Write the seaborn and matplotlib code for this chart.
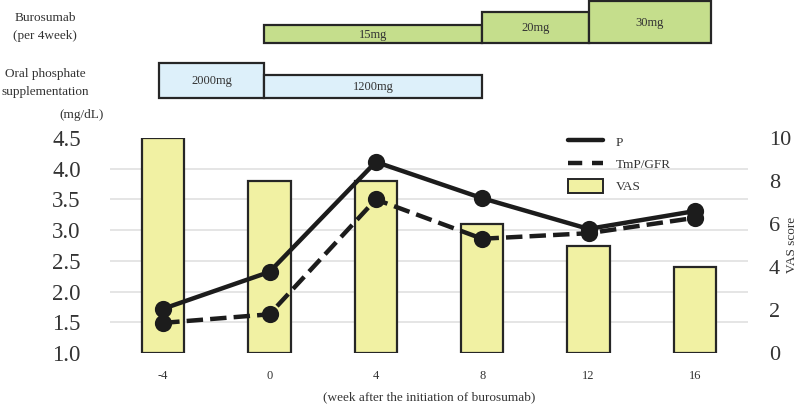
"""Burosumab dosing, serum P, TmP/GFR and VAS score over weeks."""

import matplotlib
matplotlib.use("Agg")
import matplotlib.pyplot as plt
import seaborn as sns
from matplotlib.lines import Line2D
from matplotlib.patches import Patch

WEEKS = [-4, 0, 4, 8, 12, 16]
P = [1.72, 2.32, 4.11, 3.52, 3.02, 3.31]
TMP_GFR = [1.49, 1.63, 3.50, 2.86, 2.95, 3.20]
VAS = [10, 8, 8, 6, 5, 4]

MG_TICKS = [1.0, 1.5, 2.0, 2.5, 3.0, 3.5, 4.0, 4.5]
VAS_TICKS = [0, 2, 4, 6, 8, 10]

# dosing regimens: (start week, end week, label)
BURO_START = [-0.2, 8.0, 12.0]
BURO_END = [8.0, 12.0, 16.6]
BURO_LABEL = ["15mg", "20mg", "30mg"]
PHOS_START = [-4.15, -0.2]
PHOS_END = [-0.2, 8.0]
PHOS_LABEL = ["2000mg", "1200mg"]

BAR_C = "#F1F1A3"
BURO_C = "#C5DE8C"
PHOS_C = "#DDF0FA"
EDGE = "#262626"
INK = "#1c1c1c"
SERIF = ["Liberation Serif", "DejaVu Serif"]


def week_pos(w):
    # categorical position of a week on the main axis
    return (w - WEEKS[0]) / 4.0


def main():
    sns.set_theme(style="white")
    plt.rcParams["font.family"] = SERIF
    plt.rcParams["text.color"] = "#333333"

    fig = plt.figure(figsize=(8, 4.05), dpi=100)
    W, H = 800, 405
    left, right, top, bottom = 110, 748, 138, 353
    ax_vas = fig.add_axes([left / W, 1 - bottom / H, (right - left) / W, (bottom - top) / H])
    ax_p = ax_vas.twinx()

    labels = [str(w) for w in WEEKS]
    sns.barplot(x=labels, y=VAS, order=labels, color=BAR_C, edgecolor=EDGE,
                linewidth=1.6, width=0.4, saturation=1, ax=ax_vas, zorder=2)
    ax_vas.set_ylim(0, 10)
    ax_vas.set_yticks(VAS_TICKS)
    ax_vas.yaxis.tick_right()
    ax_vas.set_ylabel("")
    # grid lines follow the mg/dL ticks, drawn beneath the bars
    ax_vas.set_yticks([(m - MG_TICKS[0]) / (MG_TICKS[-1] - MG_TICKS[0]) * 10 for m in MG_TICKS],
                      minor=True)
    ax_vas.grid(which="minor", axis="y", color="#dedede", linewidth=1.1, zorder=0)
    ax_vas.set_axisbelow(True)

    sns.pointplot(x=labels, y=P, order=labels, color=INK, markers="o",
                  linestyles="-", markersize=10, linewidth=3.2, ax=ax_p)
    sns.pointplot(x=labels, y=TMP_GFR, order=labels, color=INK, markers="o",
                  linestyles="--", markersize=10, linewidth=3.2, ax=ax_p)
    ax_p.lines[-1].set_dashes([3.2, 2.2])
    ax_p.set_ylim(MG_TICKS[0], MG_TICKS[-1])
    ax_p.set_yticks(MG_TICKS)
    ax_p.set_yticklabels([f"{m:.1f}" for m in MG_TICKS])
    ax_p.yaxis.tick_left()
    ax_p.set_ylabel("")

    for a in (ax_vas, ax_p):
        a.set_xlim(-0.5, 5.5)
        for s in a.spines.values():
            s.set_visible(False)
        a.tick_params(axis="both", which="both", length=0)
    ax_p.tick_params(axis="y", labelsize=16.5, pad=21, labelcolor="#333333")
    ax_vas.tick_params(axis="y", labelsize=16, pad=15, labelcolor="#333333")
    ax_vas.tick_params(axis="x", labelsize=9, pad=12, labelcolor="#333333")
    ax_p.tick_params(axis="x", labelbottom=False)
    ax_vas.set_xlabel("(week after the initiation of burosumab)", fontsize=9.5,
                      labelpad=7, color="#333333")

    handles = [
        Line2D([0], [0], color=INK, lw=3.2),
        Line2D([0], [0], color=INK, lw=3.2, dashes=[3.2, 2.2]),
        Patch(facecolor=BAR_C, edgecolor=EDGE, linewidth=1.4),
    ]
    ax_p.legend(handles, ["P", "TmP/GFR", "VAS"], loc="upper left",
                bbox_to_anchor=(0.70, 1.07), frameon=False, fontsize=9.5,
                handlelength=2.6, handleheight=1.2, labelspacing=0.6,
                handletextpad=1.0)

    fig.text(82 / W, 1 - 115 / H, "(mg/dL)", fontsize=9.5, ha="center", va="center")
    fig.text(792 / W, 1 - 245 / H, "VAS score", fontsize=9.5, rotation=90,
             ha="center", va="center")

    # dosing panel, y measured in pixels from the top of the figure
    ax_d = fig.add_axes([left / W, 1 - 102 / H, (right - left) / W, 102 / H])
    ax_d.set_xlim(-0.5, 5.5)
    ax_d.set_ylim(102, 0)
    ax_d.axis("off")
    buro_top = [25, 12, 1]
    for s, e, lab, t in zip(BURO_START, BURO_END, BURO_LABEL, buro_top):
        x0, x1 = week_pos(s), week_pos(e)
        ax_d.bar(x0, 43 - t, bottom=t, width=x1 - x0, align="edge",
                 color=BURO_C, edgecolor=EDGE, linewidth=1.6)
        ax_d.text((x0 + x1) / 2, (t + 43) / 2 + 1, lab, ha="center", va="center",
                  fontsize=9)
    phos_top = [63, 75]
    for s, e, lab, t in zip(PHOS_START, PHOS_END, PHOS_LABEL, phos_top):
        x0, x1 = week_pos(s), week_pos(e)
        ax_d.bar(x0, 98 - t, bottom=t, width=x1 - x0, align="edge",
                 color=PHOS_C, edgecolor=EDGE, linewidth=1.6)
        ax_d.text((x0 + x1) / 2, (t + 98) / 2 + 1, lab, ha="center", va="center",
                  fontsize=9)

    fig.text(45 / W, 1 - 27 / H, "Burosumab\n(per 4week)", fontsize=9.5,
             ha="center", va="center", linespacing=1.6)
    fig.text(45 / W, 1 - 83 / H, "Oral phosphate\nsupplementation", fontsize=9.5,
             ha="center", va="center", linespacing=1.6)

    fig.savefig("out.png", dpi=100)


if __name__ == "__main__":
    main()
